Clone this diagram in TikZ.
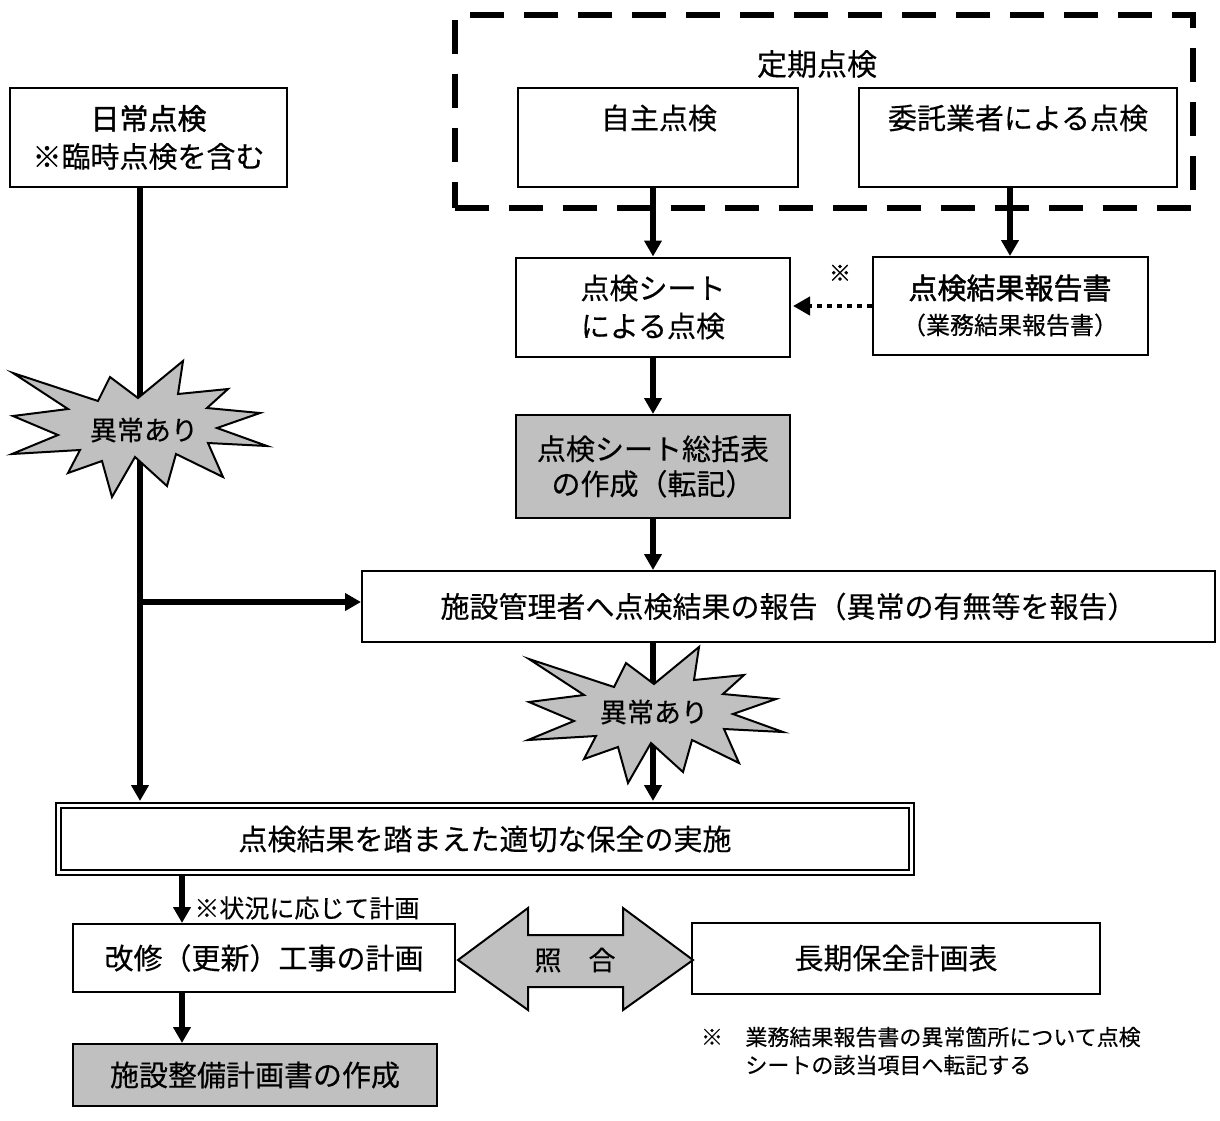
\documentclass[tikz,border=0pt]{standalone}
\usepackage{fontspec}
\setmainfont[FakeBold=0.35]{Noto Sans CJK JP}
\newfontfamily\jpbold[FakeBold=1.6]{Noto Sans CJK JP}
\usetikzlibrary{arrows.meta}
\definecolor{fillgray}{HTML}{C0C0C0}
\tikzset{
  burstpic/.pic={
    \path[burstshape] (-127,-57) -- (-42,-29) -- (-30,-53) -- (-2,-32) -- (43,-69) -- (38,-36) -- (88,-41) -- (67,-22) -- (120,-17) -- (77,-2) -- (127,16) -- (68,13) -- (83,47) -- (36,24) -- (27,56) -- (-5,27) -- (-28,67) -- (-38,31) -- (-72,43) -- (-60,20) -- (-128,24) -- (-82,5) -- (-127,-14) -- (-72,-21) -- cycle;
  }
}
\begin{document}
\begin{tikzpicture}[x=0.5pt,y=-0.5pt,
  mainfont/.style={font=\fontsize{14.5}{19}\selectfont},
  box/.style={draw, line width=1pt, fill=white, inner sep=0pt, align=center, mainfont},
  graybox/.style={box, fill=fillgray},
  txt/.style={inner sep=0pt, mainfont},
  flow/.style={line width=2.6pt, -{Triangle[length=8pt,width=8.5pt]}},
  dotflow/.style={line width=2.4pt, dash pattern=on 2.5pt off 2.5pt, -{Triangle[length=8.5pt,width=9pt]}},
  burstshape/.style={draw, line width=1pt, fill=fillgray},
  ]
\useasboundingbox (0,0) rectangle (1220,1120);

% coordinates for trunk lines
\coordinate (lx) at (140,0);
\coordinate (lx2) at (182,0);
\coordinate (br) at (140,602);

% ---- boxes ----
\node[box, minimum width=138.5pt, minimum height=49.5pt] (nichijo) at (148.5,137.5) {{\jpbold 日常点検}\\※臨時点検を含む};

\node[draw, line width=3pt, dash pattern=on 17pt off 10pt, inner sep=0pt, minimum width=369pt, minimum height=96.5pt] (teiki) at (824,111.5) {};
\node[txt, font=\fontsize{15}{18}\selectfont] (teikilabel) at (817,64) {定期点検};

\node[box, minimum width=140pt, minimum height=49.5pt] (jishu) at (658,137.5) {};
\node[txt] (jishut) at (659,118) {自主点検};
\node[box, minimum width=159pt, minimum height=49.5pt] (itaku) at (1018,137.5) {};
\node[txt] (itakut) at (1018,118) {委託業者による点検};

\node[box, minimum width=137pt, minimum height=49.5pt] (sheet) at (653,307) {点検シート\\による点検};

\node[box, minimum width=137.5pt, minimum height=49pt] (report) at (1010,306) {};
\node[txt] (reportt) at (1010,288) {\jpbold 点検結果報告書};
\node[txt, font=\fontsize{12}{15}\selectfont] (reportsub) at (1010,325) {（業務結果報告書）};

\node[graybox, minimum width=137pt, minimum height=51.5pt, font=\fontsize{14.5}{17.5}\selectfont] (sokatsu) at (653,466.5) {点検シート総括表\\の作成（転記）};

\node[box, minimum width=426.5pt, minimum height=35.5pt] (hokoku) at (788.5,606.5) {施設管理者へ点検結果の報告（異常の有無等を報告）};

% ---- connectors (upper part) ----
\draw[flow] (jishu.south -| sheet.north) -- (sheet.north);
\draw[flow] (itaku.south -| report.north) -- (report.north);
\draw[dotflow, shorten >=1pt] (report.west) -- (report.west -| sheet.east);
\node[txt, font=\fontsize{11}{13}\selectfont] (kome) at (840,273) {\jpbold ※};
\draw[flow] (sheet.south) -- (sokatsu.north);
\draw[flow] (sokatsu.south) -- (sokatsu.south |- hokoku.north);

% ---- lower boxes ----
\node[box, double, double distance=1.5pt, minimum width=426.5pt, minimum height=33.5pt] (hozen) at (485,839) {点検結果を踏まえた適切な保全の実施};

\node[box, minimum width=191pt, minimum height=34pt] (kaishu) at (264,958) {改修（更新）工事の計画};
\node[box, minimum width=204pt, minimum height=35.5pt] (choki) at (896,958) {長期保全計画表};
\node[graybox, minimum width=182pt, minimum height=31pt] (shisetsu) at (255,1075) {施設整備計画書の作成};

% ---- trunk and other connectors ----
\draw[flow, shorten >=1.75pt] (nichijo.south -| lx) -- (hozen.north -| lx);
\draw[flow] (br) -- (br -| hokoku.west);
\draw[flow, shorten >=1.75pt] (hokoku.south -| sokatsu.south) -- (hozen.north -| sokatsu.south);
\draw[flow] (hozen.south -| lx2) -- (kaishu.north -| lx2);
\node[txt, font=\fontsize{12.5}{15}\selectfont, anchor=west] (jokyo) at (194,908) {※状況に応じて計画};
\draw[flow] (kaishu.south -| lx2) -- (shisetsu.north -| lx2);

% ---- bursts ----
\pic (star1) at (140,430) {burstpic};
\node[txt, font=\fontsize{13.5}{16}\selectfont] (ijo1) at (144,430) {異常あり};
\pic (star2) at (656,716) {burstpic};
\node[txt, font=\fontsize{13.5}{16}\selectfont] (ijo2) at (654,712) {異常あり};

% ---- double arrow ----
\draw[burstshape] (458,960) -- (528,908) -- (528,935) -- (623,935) -- (623,908) -- (693,960) -- (623,1010) -- (623,987) -- (528,987) -- (528,1010) -- cycle;
\node[txt, font=\fontsize{13.5}{16}\selectfont] (shogo) at (575,960) {照　合};

% ---- note ----
\node[txt, font=\fontsize{11}{14}\selectfont] (notemark) at (712,1037) {※};
\node[txt, font=\fontsize{11}{14}\selectfont, anchor=west] (note1) at (745,1037) {業務結果報告書の異常箇所について点検};
\node[txt, font=\fontsize{11}{14}\selectfont, anchor=west] (note2) at (745,1065) {シートの該当項目へ転記する};
\end{tikzpicture}
\end{document}
